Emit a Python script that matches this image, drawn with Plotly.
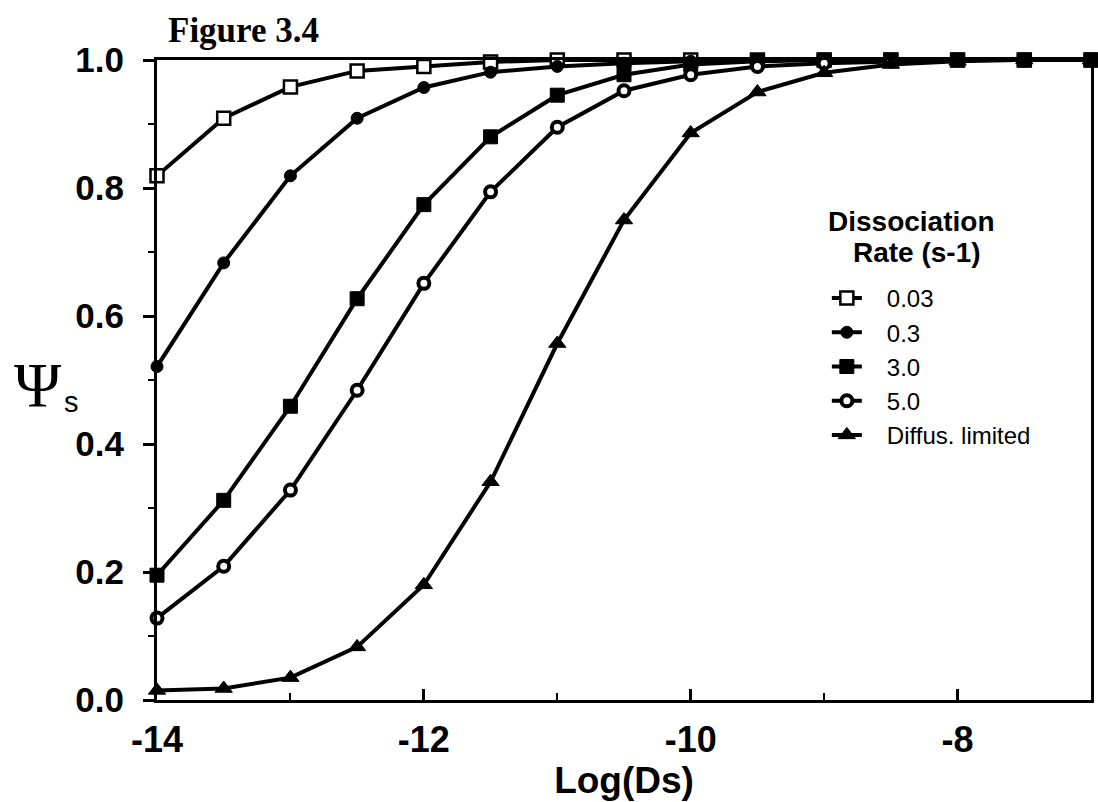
import plotly.graph_objects as go

log_ds = [-14, -13.5, -13, -12.5, -12, -11.5, -11, -10.5, -10, -9.5, -9, -8.5, -8, -7.5, -7]

psi_003 = [0.819, 0.909, 0.958, 0.983, 0.990, 0.997, 1.0, 1.0, 1.0, 1.0, 1.0, 1.0, 1.0, 1.0, 1.0]
psi_03 = [0.521, 0.683, 0.819, 0.909, 0.957, 0.981, 0.990, 0.995, 0.998, 1.0, 1.0, 1.0, 1.0, 1.0, 1.0]
psi_30 = [0.195, 0.312, 0.459, 0.627, 0.774, 0.880, 0.945, 0.977, 0.993, 0.998, 1.0, 1.0, 1.0, 1.0, 1.0]
psi_50 = [0.128, 0.209, 0.328, 0.484, 0.651, 0.794, 0.895, 0.952, 0.977, 0.990, 0.995, 0.998, 1.0, 1.0, 1.0]
psi_diff = [0.015, 0.018, 0.035, 0.083, 0.180, 0.341, 0.557, 0.750, 0.886, 0.950, 0.980, 0.993, 0.998, 1.0, 1.0]

series_names = ["0.03", "0.3", "3.0", "5.0", "Diffus. limited"]
series_values = [psi_003, psi_03, psi_30, psi_50, psi_diff]

x_tickvals = [-14, -12, -10, -8]
x_ticktext = ["-14", "-12", "-10", "-8"]
y_tickvals = [0, 0.2, 0.4, 0.6, 0.8, 1.0]
y_ticktext = ["0.0", "0.2", "0.4", "0.6", "0.8", "1.0"]

marker_styles = [
    dict(symbol="square", size=13, color="white", line=dict(color="black", width=2.5)),
    dict(symbol="circle", size=12, color="black", line=dict(color="black", width=1)),
    dict(symbol="square", size=14, color="black", line=dict(color="black", width=1)),
    dict(symbol="circle", size=11, color="white", line=dict(color="black", width=4)),
    dict(symbol="triangle-up", size=15, color="black", line=dict(color="black", width=1)),
]

fig = go.Figure()
for name, vals, mk in zip(series_names, series_values, marker_styles):
    fig.add_trace(go.Scatter(
        x=log_ds, y=vals, name="\u00a0\u00a0\u00a0" + name, mode="lines+markers",
        line=dict(color="black", width=4), marker=mk, cliponaxis=False,
    ))

sans = "Liberation Sans, Arial, sans-serif"
serif = "Liberation Serif, Times New Roman, serif"

plot_l, plot_b, plot_w, plot_h = 157, 102, 937, 640

fig.update_layout(
    width=1098, height=802, autosize=False,
    margin=dict(l=plot_l, r=1098 - plot_l - plot_w, t=60, b=plot_b),
    plot_bgcolor="white", paper_bgcolor="white",
    showlegend=True,
    legend=dict(
        x=(829 - plot_l) / plot_w, y=(700 - 276) / plot_h, xanchor="left", yanchor="top",
        font=dict(family=sans, size=24, color="black"),
        bgcolor="rgba(0,0,0,0)", itemwidth=30, tracegroupgap=0,
    ),
    xaxis=dict(
        range=[-14, -7], tickvals=x_tickvals, ticktext=x_ticktext,
        ticks="inside", ticklen=11, tickwidth=3, tickcolor="black",
        minor=dict(tickvals=[-13, -11, -9], ticks="inside", ticklen=7, tickwidth=2, tickcolor="black"),
        showline=True, linewidth=3, linecolor="black", mirror=True,
        showgrid=False, zeroline=False,
        tickfont=dict(family=sans, size=36, color="black", weight="bold"),
        ticklabelstandoff=6,
        title=dict(text="Log(Ds)", font=dict(family=sans, size=37, color="black", weight="bold"), standoff=4),
    ),
    yaxis=dict(
        range=[0, 1], tickvals=y_tickvals, ticktext=y_ticktext,
        ticks="outside", ticklen=11, tickwidth=3, tickcolor="black",
        minor=dict(tickvals=[0.1, 0.3, 0.5, 0.7, 0.9], ticks="outside", ticklen=6, tickwidth=2, tickcolor="black"),
        showline=True, linewidth=3, linecolor="black", mirror=True,
        showgrid=False, zeroline=False,
        tickfont=dict(family=sans, size=35, color="black", weight="bold"),
        ticklabelstandoff=12,
    ),
    annotations=[
        dict(text="Figure 3.4", x=244, y=802 - 30, showarrow=False,
             font=dict(family=serif, size=35, color="black", weight="bold")),
        dict(text="Ψ", x=38, y=802 - 385, showarrow=False,
             font=dict(family=serif, size=64, color="black")),
        dict(text="s", x=71, y=802 - 402, showarrow=False,
             font=dict(family=sans, size=29, color="black")),
        dict(text="Dissociation", x=913, y=802 - 221, showarrow=False,
             font=dict(family=sans, size=28, color="black", weight="bold")),
        dict(text="Rate (s-1)", x=919, y=802 - 252, showarrow=False,
             font=dict(family=sans, size=28, color="black", weight="bold")),
    ],
)

# convert pixel positions of annotations to paper coordinates
for a in fig.layout.annotations:
    a.x = (a.x - plot_l) / plot_w
    a.y = (a.y - plot_b) / plot_h
    a.xref = "paper"
    a.yref = "paper"
    a.xanchor = "center"
    a.yanchor = "middle"

fig.write_html("out.html")
